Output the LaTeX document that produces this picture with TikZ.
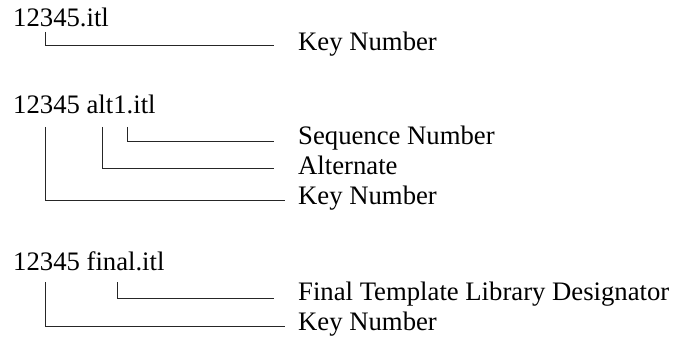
\documentclass[tikz,border=0pt]{standalone}
\usepackage{fontspec}
\setmainfont{Liberation Serif}
\begin{document}
\begin{tikzpicture}[x=1pt,y=-1pt,
  txt/.style={anchor=base west,inner sep=0pt,font=\fontsize{26.7}{30}\selectfont},
  conn/.style={line width=1.3pt,black!85}]
\useasboundingbox (0,0) rectangle (676,339);
% block 1
\node[txt] (f1) at (13,27) {12345.itl};
\node[txt] (l1) at (298,51) {Key Number};
\coordinate (a1) at (45.5,32);
\coordinate (e1) at (274,45.5);
\draw[conn] (a1) |- (e1);
% block 2
\node[txt] (f2) at (13,114) {12345 alt1.itl};
\node[txt] (l2s) at (298,145) {Sequence Number};
\node[txt] (l2a) at (298,175) {Alternate};
\node[txt] (l2k) at (298,204) {Key Number};
\coordinate (a2s) at (127.5,127);
\coordinate (e2s) at (274,141.5);
\coordinate (a2a) at (102.5,127);
\coordinate (e2a) at (274,168.5);
\coordinate (a2k) at (45.5,127);
\coordinate (e2k) at (285,200.5);
\draw[conn] (a2s) |- (e2s);
\draw[conn] (a2a) |- (e2a);
\draw[conn] (a2k) |- (e2k);
% block 3
\node[txt] (f3) at (13,270) {12345 final.itl};
\node[txt] (l3f) at (298,300) {Final Template Library Designator};
\node[txt] (l3k) at (298,330) {Key Number};
\coordinate (a3f) at (117.5,282);
\coordinate (e3f) at (274,298.5);
\coordinate (a3k) at (45.5,282);
\coordinate (e3k) at (285,326.5);
\draw[conn] (a3f) |- (e3f);
\draw[conn] (a3k) |- (e3k);
\end{tikzpicture}
\end{document}
